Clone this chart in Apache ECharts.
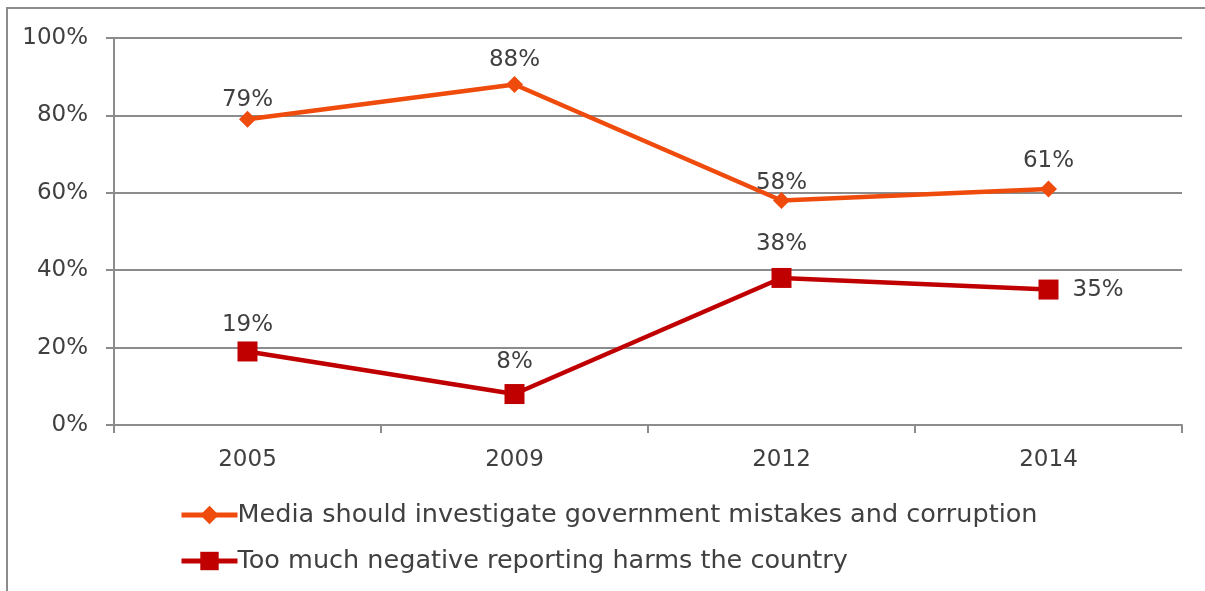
<!DOCTYPE html>
<html>
<head>
<meta charset="utf-8">
<script src="https://cdn.jsdelivr.net/npm/echarts@6/dist/echarts.min.js"></script>
<style>
  html, body { margin: 0; padding: 0; background: #ffffff; }
  #chart { width: 1205px; height: 591px; }
</style>
</head>
<body>
<div id="chart"></div>
<script>
// Survey years and shares of respondents (percent)
const years = ['2005', '2009', '2012', '2014'];
const investigateValues = [79, 88, 58, 61];
const negativeValues = [19, 8, 38, 35];
const yTicks = [0, 20, 40, 60, 80, 100];

const seriesNames = [
  'Media should investigate government mistakes and corruption',
  'Too much negative reporting harms the country'
];

// Per-point gap between marker and its value label (px)
const investigateLabelGap = [-1, 4, -2, 8];
const negativeLabelGap = [5, 11, 12, 14];

const textColor = '#404040';
const gridColor = '#8c8c8c';
const orange = '#EE4B0C';
const red = '#C00000';
const fontFamily = '"DejaVu Sans", sans-serif';

const labelBase = {
  show: true,
  position: 'top',
  color: textColor,
  fontSize: 23,
  fontFamily: fontFamily,
  formatter: '{c}%'
};

const chart = echarts.init(document.getElementById('chart'));

chart.setOption({
  backgroundColor: '#ffffff',
  animation: false,
  graphic: [
    {
      type: 'polyline',
      shape: { points: [[7, 591], [7, 8], [1205, 8]] },
      style: { stroke: '#8c8c8c', lineWidth: 2, fill: null }
    }
  ],
  grid: { left: 114, right: 23, top: 38, bottom: 166 },
  legend: {
    orient: 'vertical',
    left: 179,
    top: 502,
    padding: 0,
    itemGap: 20,
    itemWidth: 56,
    itemHeight: 23,
    lineStyle: { width: 5 },
    textStyle: { color: textColor, fontSize: 25.5, fontFamily: fontFamily, padding: [0, 0, 0, -5] },
    data: seriesNames
  },
  xAxis: {
    type: 'category',
    data: years,
    boundaryGap: true,
    axisLine: { lineStyle: { color: gridColor, width: 2 } },
    axisTick: { show: true, length: 8, lineStyle: { color: gridColor, width: 2 } },
    axisLabel: { color: textColor, fontSize: 23, fontFamily: fontFamily, margin: 24 }
  },
  yAxis: {
    type: 'value',
    min: yTicks[0],
    max: yTicks[yTicks.length - 1],
    interval: 20,
    axisLine: { show: true, lineStyle: { color: gridColor, width: 2 } },
    axisTick: { show: true, length: 8, lineStyle: { color: gridColor, width: 2 } },
    splitLine: { lineStyle: { color: gridColor, width: 2 } },
    axisLabel: { color: textColor, fontSize: 23, fontFamily: fontFamily, margin: 26, formatter: '{value}%' }
  },
  series: [
    {
      name: seriesNames[0],
      type: 'line',
      data: investigateValues.map((v, i) => ({
        value: v,
        label: { distance: investigateLabelGap[i] }
      })),
      symbol: 'diamond',
      symbolSize: 17,
      lineStyle: { color: orange, width: 4.5 },
      itemStyle: { color: orange },
      label: labelBase
    },
    {
      name: seriesNames[1],
      type: 'line',
      data: negativeValues.map((v, i) => ({
        value: v,
        label: i === 3
          ? { position: 'right', distance: negativeLabelGap[i] }
          : { distance: negativeLabelGap[i] }
      })),
      symbol: 'rect',
      symbolSize: 20,
      lineStyle: { color: red, width: 4.5 },
      itemStyle: { color: red },
      label: labelBase
    }
  ]
});
</script>
</body>
</html>
